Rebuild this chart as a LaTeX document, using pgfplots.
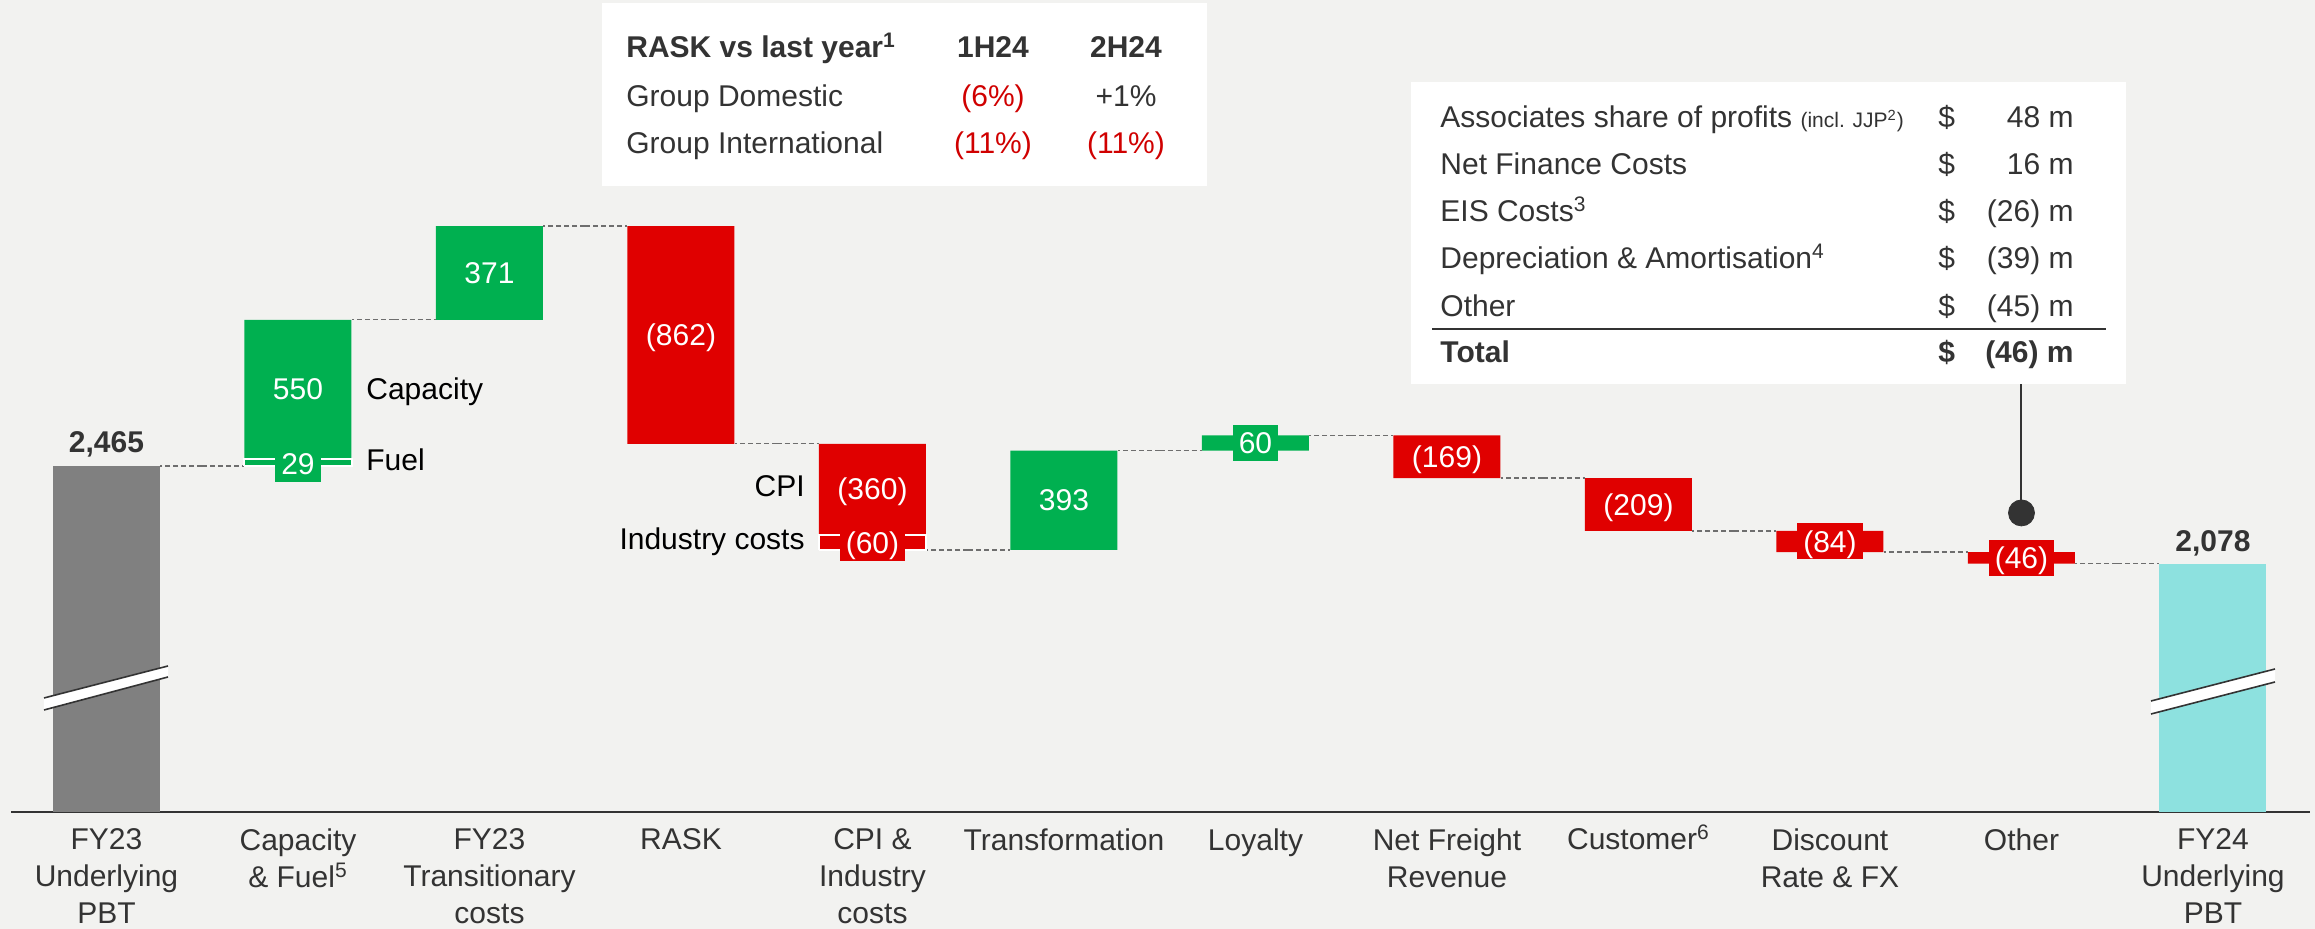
\documentclass[border=0pt]{standalone}
\usepackage{pgfplots}
\pgfplotsset{compat=1.18}
\usepackage{fontspec}
\setmainfont{Liberation Sans}

\definecolor{bg}{HTML}{F2F2F0}
\definecolor{pos}{HTML}{00B050}
\definecolor{neg}{HTML}{E00000}
\definecolor{tot1}{HTML}{808080}
\definecolor{tot2}{HTML}{8DE1DF}
\definecolor{ink}{HTML}{333333}
\definecolor{dashc}{HTML}{6E6E6E}
\definecolor{redtxt}{HTML}{D00000}

\newcommand{\vf}{\fontsize{15}{18}\selectfont}
\newcommand{\sm}{\fontsize{10.5}{12}\selectfont}

% pixel grid of the reference (2315 x 929), origin top left
\tikzset{
  px/.style={x=0.5pt, y=-0.5pt, shift={(-5.5pt,406pt)}},
  val/.style={font=\vf, text=white, text height=10.7pt, text depth=0pt, inner sep=0pt},
  box/.style={val, minimum height=18pt, inner xsep=3pt},
  tt/.style={font=\vf, text=ink, inner sep=0pt},
}
\pgfplotsset{
  frame/.style={
    width=1149.5pt, height=406pt, scale only axis,
    xmin=-0.49869, xmax=11.50653, ymin=1094.7, ymax=4310.5,
  },
}

\begin{document}
\begin{tikzpicture}
\begin{scope}[px]
  \fill[bg] (0,0) rectangle (2315,929);
\end{scope}

% bars: invisible base + stacked pieces
\begin{axis}[frame,
    ybar stacked, bar width=53.5pt,
    axis y line=none, axis x line*=bottom,
    x axis line style={draw=ink, line width=1pt, -},
    xtick={0,...,11}, ytick=\empty, major tick length=0pt,
    xticklabels={{FY23\\Underlying\\PBT}, {Capacity\\\& Fuel\smash{\textsuperscript{5}}},
      {FY23\\Transitionary\\costs}, {RASK}, {CPI \&\\Industry\\costs},
      {Transformation}, {Loyalty}, {Net Freight\\Revenue},
      {Customer\smash{\textsuperscript{6}}}, {Discount\\Rate \& FX}, {Other},
      {FY24\\Underlying\\PBT}},
    xticklabel style={font=\fontsize{15}{18.5}\selectfont, text=ink, align=center,
      anchor=north, inner sep=0pt, yshift=-8.3pt},
  ]
  \addplot[draw=none, fill=none] coordinates {(0,0) (1,2465) (2,3044) (3,2553) (4,2133)
    (5,2133) (6,2526) (7,2417) (8,2208) (9,2124) (10,2078) (11,0)};
  \addplot[draw=none, fill=tot1] coordinates {(0,2465) (1,0) (2,0) (3,0) (4,0) (5,0)
    (6,0) (7,0) (8,0) (9,0) (10,0) (11,0)};
  \addplot[draw=none, fill=tot2] coordinates {(0,0) (1,0) (2,0) (3,0) (4,0) (5,0)
    (6,0) (7,0) (8,0) (9,0) (10,0) (11,2078)};
  \addplot[draw=none, fill=pos] coordinates {(0,0) (1,579) (2,371) (3,0) (4,0) (5,393)
    (6,60) (7,0) (8,0) (9,0) (10,0) (11,0)};
  \addplot[draw=none, fill=neg] coordinates {(0,0) (1,0) (2,0) (3,862) (4,420) (5,0)
    (6,0) (7,169) (8,209) (9,84) (10,46) (11,0)};
\end{axis}

% connectors, split pieces, labels
\begin{axis}[frame, hide axis, clip=false]
  \addplot[draw=none, mark=none, forget plot,
    error bars/.cd, x dir=both, x fixed=0.2206, error mark=none,
    error bar style={draw=dashc, line width=0.7pt, dash pattern=on 2.5pt off 1.5pt}]
    coordinates {(0.5,2465) (1.5,3044) (2.5,3415) (3.5,2553) (4.5,2133) (5.5,2526)
      (6.5,2586) (7.5,2417) (8.5,2208) (9.5,2124) (10.5,2078)};
  % fuel and industry costs pieces
  \addplot[white, line width=1pt, forget plot] coordinates {(0.7206,2465) (1.2794,2465)
    (1.2794,2494) (0.7206,2494) (0.7206,2465)};
  \addplot[white, line width=1pt, forget plot] coordinates {(3.7206,2133) (4.2794,2133)
    (4.2794,2193) (3.7206,2193) (3.7206,2133)};
  % pointer to the table
  \addplot[ink, line width=1pt, forget plot] coordinates {(10,2279) (10,2800)};
  \addplot[only marks, mark=*, mark size=6.5pt, mark options={draw=ink, fill=ink}]
    coordinates {(10,2279)};

  \node[val] at (axis cs:1,2769) {550};
  \node[box, fill=pos] at (axis cs:1,2474) {29};
  \node[val] at (axis cs:2,3229.5) {371};
  \node[val] at (axis cs:3,2984) {(862)};
  \node[val] at (axis cs:4,2373) {(360)};
  \node[box, fill=neg] at (axis cs:4,2160) {(60)};
  \node[val] at (axis cs:5,2329.5) {393};
  \node[box, fill=pos] at (axis cs:6,2556) {60};
  \node[val] at (axis cs:7,2501.5) {(169)};
  \node[val] at (axis cs:8,2312.5) {(209)};
  \node[box, fill=neg] at (axis cs:9,2166) {(84)};
  \node[box, fill=neg] at (axis cs:10,2101) {(46)};

  \node[tt, font=\vf\bfseries, anchor=base, yshift=6.5pt] at (axis cs:0,2465) {2,465};
  \node[tt, font=\vf\bfseries, anchor=base, yshift=6pt] at (axis cs:11,2078) {2,078};
\end{axis}

\begin{scope}[px]
  % axis breaks
  \fill[white] (44,698) -- (168,666) -- (168,677) -- (44,710) -- cycle;
  \draw[ink, line width=0.8pt] (44,698) -- (168,666) (44,710) -- (168,677);
  \fill[white] (2151,701) -- (2275,669) -- (2275,682) -- (2151,714) -- cycle;
  \draw[ink, line width=0.8pt] (2151,701) -- (2275,669) (2151,714) -- (2275,682);

  % piece names
  \node[tt, text=black, anchor=base west] at (366,400) {Capacity};
  \node[tt, text=black, anchor=base west] at (366,471) {Fuel};
  \node[tt, text=black, anchor=base east] at (805,497) {CPI};
  \node[tt, text=black, anchor=base east] at (805,550) {Industry costs};

  % RASK table
  \fill[white] (602,3) rectangle (1207,186);
  \node[tt, anchor=base west, font=\vf\bfseries] at (626,58) {RASK vs last year\textsuperscript{1}};
  \node[tt, anchor=base, font=\vf\bfseries] at (993,58) {1H24};
  \node[tt, anchor=base, font=\vf\bfseries] at (1126,58) {2H24};
  \node[tt, anchor=base west] at (626,107) {Group Domestic};
  \node[tt, anchor=base, text=redtxt] at (993,107) {(6\%)};
  \node[tt, anchor=base] at (1126,107) {+1\%};
  \node[tt, anchor=base west] at (626,154) {Group International};
  \node[tt, anchor=base, text=redtxt] at (993,154) {(11\%)};
  \node[tt, anchor=base, text=redtxt] at (1126,154) {(11\%)};

  % other items table
  \fill[white] (1411,82) rectangle (2126,384);
  \node[tt, anchor=base west] at (1440,128) {Associates share of profits {\sm (incl. JJP\textsuperscript{2})}};
  \node[tt, anchor=base west] at (1440,175) {Net Finance Costs};
  \node[tt, anchor=base west] at (1440,222) {EIS Costs\textsuperscript{3}};
  \node[tt, anchor=base west] at (1440,269) {Depreciation \& Amortisation\textsuperscript{4}};
  \node[tt, anchor=base west] at (1440,317) {Other};
  \node[tt, anchor=base west, font=\vf\bfseries] at (1440,363) {Total};
  \foreach \yy in {128,175,222,269,317}
    \node[tt, anchor=base west] at (1938,\yy) {\$};
  \node[tt, anchor=base west, font=\vf\bfseries] at (1938,363) {\$};
  \node[tt, anchor=base east] at (2074,128) {48 m};
  \node[tt, anchor=base east] at (2074,175) {16 m};
  \node[tt, anchor=base east] at (2074,222) {(26) m};
  \node[tt, anchor=base east] at (2074,269) {(39) m};
  \node[tt, anchor=base east] at (2074,317) {(45) m};
  \node[tt, anchor=base east, font=\vf\bfseries] at (2074,363) {(46) m};
  \draw[ink, line width=0.6pt] (1432,329) -- (2106,329);
\end{scope}

\pgfresetboundingbox
\begin{scope}[px]
  \path[use as bounding box] (0,0) rectangle (2315,929);
\end{scope}
\end{tikzpicture}
\end{document}
